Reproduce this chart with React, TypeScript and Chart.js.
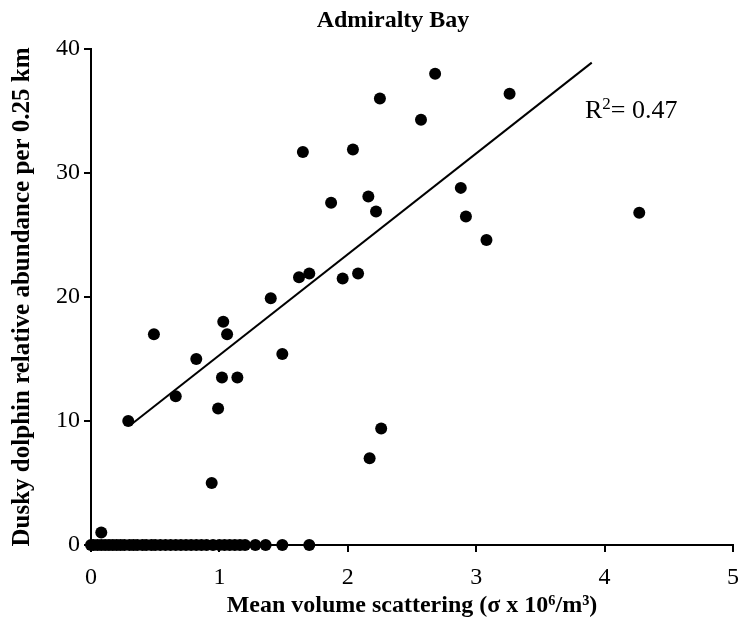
import React, { useEffect, useRef } from "react";
import { Chart, registerables } from "chart.js";

Chart.register(...registerables);

const titleText = "Admiralty Bay";
const xTitle = "Mean volume scattering (σ x 10⁶/m³)";
const yTitle = "Dusky dolphin relative abundance per 0.25 km";
const r2Base = "R";
const r2Sup = "2";
const r2Rest = "= 0.47";

const xTicks = [0, 1, 2, 3, 4, 5];
const yTicks = [0, 10, 20, 30, 40];

// sightings with dolphins present
const presentX = [0.08, 0.29, 0.49, 0.66, 0.82, 0.94, 0.99, 1.02, 1.03, 1.06, 1.14, 1.4, 1.49, 1.62, 1.65, 1.7, 1.87, 1.96, 2.04, 2.08, 2.16, 2.17, 2.22, 2.25, 2.26, 2.57, 2.68, 2.88, 2.92, 3.08, 3.26, 4.27];
const presentY = [1, 10, 17, 12, 15, 5, 11, 13.5, 18, 17, 13.5, 19.9, 15.4, 21.6, 31.7, 21.9, 27.6, 21.5, 31.9, 21.9, 28.1, 7, 26.9, 36, 9.4, 34.3, 38, 28.8, 26.5, 24.6, 36.4, 26.8];

// sightings with zero abundance
const zeroX = [0, 0.02, 0.05, 0.08, 0.11, 0.14, 0.17, 0.2, 0.23, 0.26, 0.3, 0.33, 0.36, 0.4, 0.43, 0.47, 0.5, 0.54, 0.58, 0.62, 0.66, 0.7, 0.74, 0.78, 0.82, 0.86, 0.9, 0.95, 1.0, 1.04, 1.08, 1.12, 1.16, 1.2, 1.28, 1.36, 1.49, 1.7];
const zeroY = [0, 0, 0, 0, 0, 0, 0, 0, 0, 0, 0, 0, 0, 0, 0, 0, 0, 0, 0, 0, 0, 0, 0, 0, 0, 0, 0, 0, 0, 0, 0, 0, 0, 0, 0, 0, 0, 0];

// regression line end points
const fitX = [0.31, 3.9];
const fitY = [9.7, 38.9];

const SERIF = "'Liberation Serif', 'Times New Roman', serif";

export default function App() {
  const ref = useRef<HTMLCanvasElement | null>(null);

  useEffect(() => {
    if (!ref.current) return;
    const textPlugin = {
      id: "texts",
      afterDraw(chart: any) {
        const ctx = chart.ctx;
        ctx.save();
        ctx.fillStyle = "#000";
        ctx.font = `bold 24px ${SERIF}`;
        ctx.textAlign = "center";
        ctx.textBaseline = "alphabetic";
        ctx.fillText(titleText, 393, 27);
        ctx.textAlign = "left";
        let x = 585;
        ctx.font = `26px ${SERIF}`;
        ctx.fillText(r2Base, x, 118);
        x += ctx.measureText(r2Base).width;
        ctx.font = `17px ${SERIF}`;
        ctx.fillText(r2Sup, x, 109);
        x += ctx.measureText(r2Sup).width;
        ctx.font = `26px ${SERIF}`;
        ctx.fillText(r2Rest, x, 118);
        ctx.restore();
      },
    };

    const chart = new Chart(ref.current, {
      type: "scatter",
      data: {
        datasets: [
          {
            label: "present",
            data: presentX.map((x, i) => ({ x, y: presentY[i] })),
            backgroundColor: "#000",
            borderColor: "#000",
            pointRadius: 6,
            pointBorderWidth: 0,
            clip: false,
          } as any,
          {
            label: "zero",
            data: zeroX.map((x, i) => ({ x, y: zeroY[i] })),
            backgroundColor: "#000",
            borderColor: "#000",
            pointRadius: 6,
            pointBorderWidth: 0,
            clip: false,
          } as any,
          {
            label: "fit",
            type: "line",
            data: fitX.map((x, i) => ({ x, y: fitY[i] })),
            borderColor: "#000",
            borderWidth: 2,
            pointRadius: 0,
            showLine: true,
            fill: false,
          } as any,
        ],
      },
      options: {
        animation: false,
        responsive: false,
        maintainAspectRatio: false,
        layout: { padding: { top: 49, right: 6, left: 0, bottom: 0 } },
        plugins: {
          legend: { display: false },
          title: { display: false },
          tooltip: { enabled: false },
        },
        scales: {
          x: {
            type: "linear",
            min: 0,
            max: 5,
            afterBuildTicks: (s: any) => {
              s.ticks = xTicks.map((v) => ({ value: v }));
            },
            afterFit: (s: any) => {
              s.height = 85;
              s.paddingLeft = 0;
              s.paddingRight = 0;
            },
            border: { display: true, color: "#000", width: 2 },
            grid: { display: true, drawOnChartArea: false, drawTicks: true, tickLength: 7, color: "#000", lineWidth: 2 },
            ticks: { color: "#000", font: { family: SERIF, size: 24 }, padding: 11, maxRotation: 0 },
            title: {
              display: true,
              text: xTitle,
              color: "#000",
              font: { family: SERIF, size: 24, weight: "bold" },
              padding: { top: 0, bottom: 10 },
            },
          },
          y: {
            type: "linear",
            min: 0,
            max: 40,
            afterBuildTicks: (s: any) => {
              s.ticks = yTicks.map((v) => ({ value: v }));
            },
            afterFit: (s: any) => {
              s.width = 91;
              s.paddingTop = 0;
              s.paddingBottom = 0;
            },
            border: { display: true, color: "#000", width: 2 },
            grid: { display: true, drawOnChartArea: false, drawTicks: true, tickLength: 7, color: "#000", lineWidth: 2 },
            ticks: { color: "#000", font: { family: SERIF, size: 24 }, padding: 4 },
            title: {
              display: true,
              text: yTitle,
              color: "#000",
              font: { family: SERIF, size: 25, weight: "bold" },
              padding: { top: 8, bottom: 0 },
            },
          },
        },
      },
      plugins: [textPlugin],
    });
    return () => chart.destroy();
  }, []);

  return (
    <div style={{ position: "fixed", left: 0, top: 0, width: 739, height: 630, background: "#fff" }}>
      <canvas ref={ref} width={739} height={630} style={{ width: 739, height: 630, display: "block" }} />
    </div>
  );
}
